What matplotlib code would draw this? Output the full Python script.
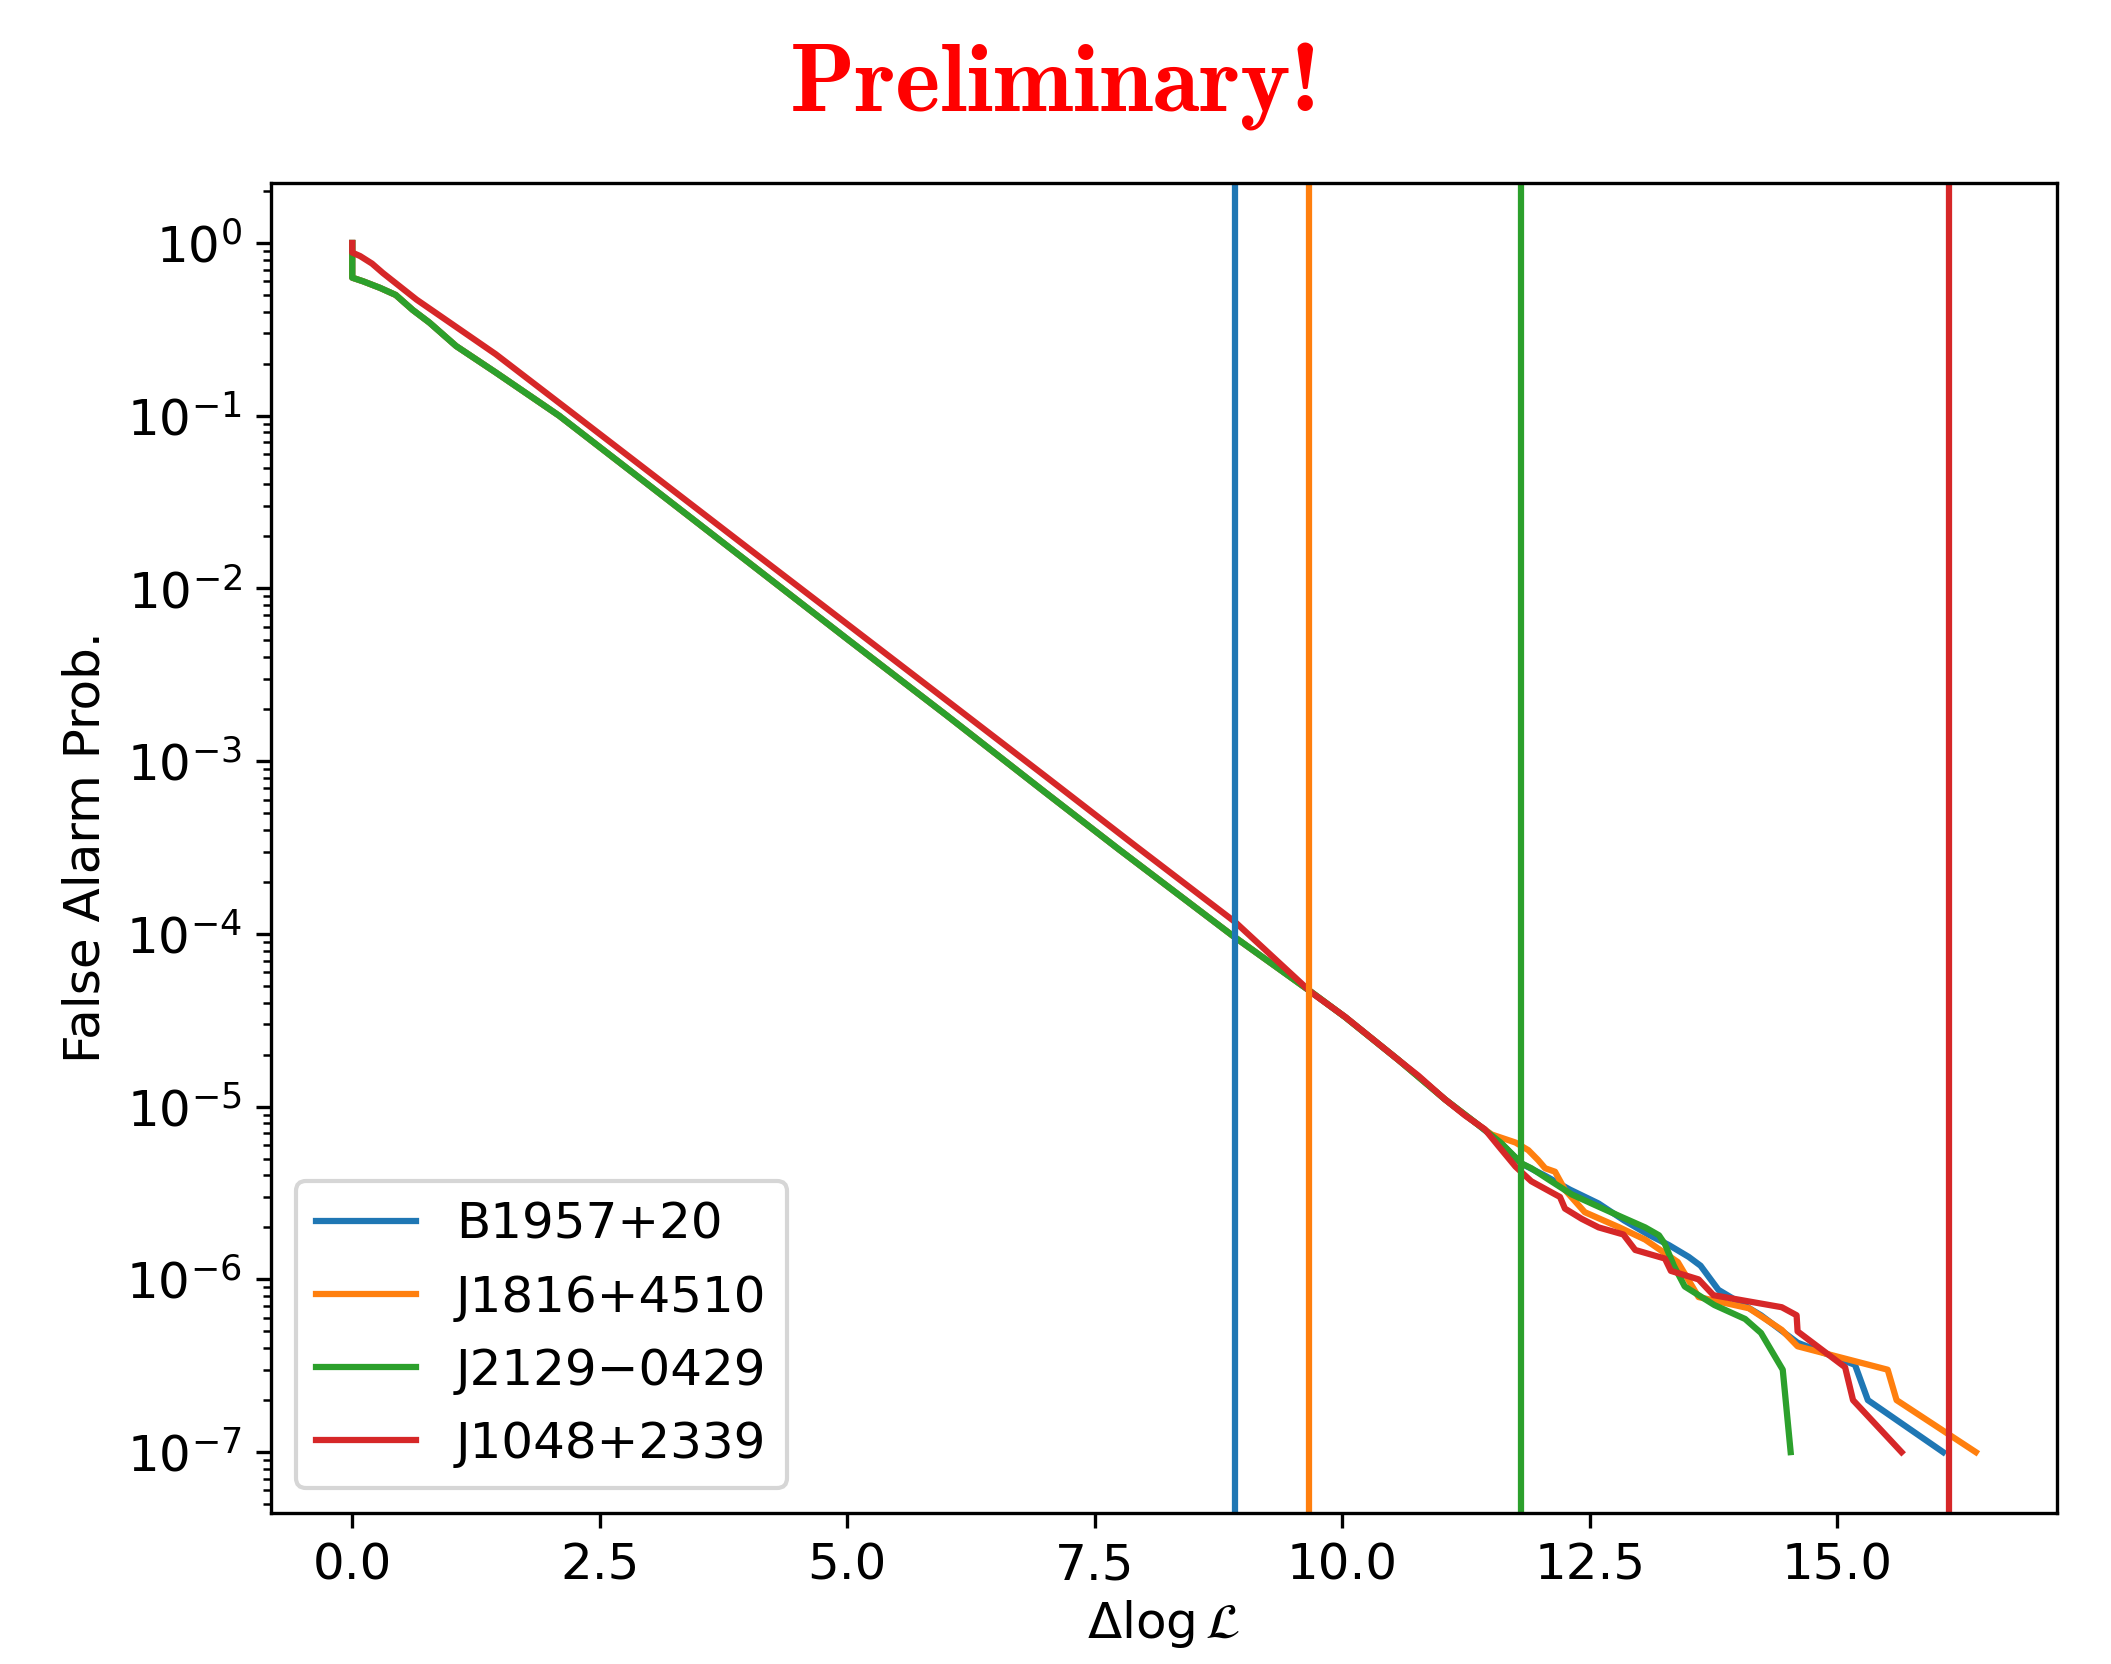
"""False alarm probability vs delta log-likelihood for four pulsars (preliminary)."""
import numpy as np
import matplotlib
matplotlib.use("Agg")
import matplotlib.pyplot as plt

plt.rcParams["font.size"] = 12

NAMES = ["B1957+20", "J1816+4510", "J2129\u22120429", "J1048+2339"]
COLORS = ["#1f77b4", "#ff7f0e", "#2ca02c", "#d62728"]

# common part of the three overlapping curves (blue / orange / green)
head_x = [0, 0, 0.11, 0.28, 0.44, 0.61, 0.78, 1.05, 1.45, 2.09, 3.0, 4.0,
          5.0, 6.0, 7.0, 7.74, 8.89, 9.69, 10.03, 10.57, 11.04, 11.38]
head_y = [1.0, 0.63, 0.60, 0.55, 0.50, 0.41, 0.346, 0.253, 0.178, 0.10,
          0.0395, 0.0142, 0.0051, 0.00185, 0.00066, 0.00031, 9.8e-5, 4.6e-5,
          3.3e-5, 1.86e-5, 1.1e-5, 7.8e-6]

blue_tail_x = [11.6, 11.81, 12.05, 12.3, 12.59, 12.85, 13.09, 13.3, 13.5,
               13.62, 13.8, 14.23, 14.6, 15.18, 15.31, 16.07]
blue_tail_y = [6.17e-6, 4.68e-6, 3.98e-6, 3.31e-6, 2.75e-6, 2.19e-6, 1.82e-6,
               1.58e-6, 1.35e-6, 1.2e-6, 8.7e-7, 6.2e-7, 4.3e-7, 3.2e-7,
               2.0e-7, 1.0e-7]

orange_tail_x = [11.51, 11.75, 11.88, 11.98, 12.05, 12.15, 12.25, 12.45,
                 12.8, 13.06, 13.39, 13.6, 14.11, 14.44, 14.6, 15.51, 15.6,
                 16.4]
orange_tail_y = [6.9e-6, 6.2e-6, 5.6e-6, 4.9e-6, 4.4e-6, 4.2e-6, 3.3e-6,
                 2.45e-6, 2.0e-6, 1.7e-6, 1.26e-6, 7.9e-7, 6.8e-7, 5.1e-7,
                 4.1e-7, 3.0e-7, 2.0e-7, 1.0e-7]

green_tail_x = [11.6, 11.81, 11.91, 12.08, 12.32, 12.55, 12.82, 13.06, 13.2,
                13.26, 13.35, 13.46, 13.76, 14.07, 14.23, 14.45, 14.53]
green_tail_y = [6.2e-6, 4.7e-6, 4.4e-6, 3.8e-6, 3.1e-6, 2.7e-6, 2.3e-6,
                2.0e-6, 1.8e-6, 1.6e-6, 1.2e-6, 9.1e-7, 7.1e-7, 5.9e-7,
                4.9e-7, 3.0e-7, 1.0e-7]

red_x = [0, 0, 0.08, 0.2, 0.31, 0.65, 1.45, 2.26, 3.0, 4.0, 5.0, 6.0, 7.0,
         7.91, 8.92, 9.69, 10.03, 10.57, 10.77, 11.04, 11.24, 11.44, 11.58,
         11.75, 11.91, 12.11, 12.2, 12.25, 12.42, 12.59, 12.84, 12.96, 13.26,
         13.32, 13.6, 13.75, 14.44, 14.59, 14.6, 15.08, 15.16, 15.65]
red_y = [1.0, 0.88, 0.84, 0.76, 0.67, 0.47, 0.227, 0.10, 0.0472, 0.0171,
         0.00622, 0.00226, 0.00082, 0.000324, 0.000117, 4.57e-5, 3.31e-5,
         1.86e-5, 1.51e-5, 1.1e-5, 8.9e-6, 7.4e-6, 5.9e-6, 4.5e-6, 3.7e-6,
         3.2e-6, 3.0e-6, 2.57e-6, 2.24e-6, 2.0e-6, 1.82e-6, 1.48e-6, 1.32e-6,
         1.12e-6, 1.0e-6, 8.1e-7, 6.9e-7, 6.2e-7, 5.0e-7, 3.1e-7, 2.0e-7,
         1.0e-7]

# observed delta log L of each pulsar
observed = [8.92, 9.66, 11.81, 16.13]

curves = [
    (head_x + blue_tail_x, head_y + blue_tail_y),
    (head_x + orange_tail_x, head_y + orange_tail_y),
    (head_x + green_tail_x, head_y + green_tail_y),
    (red_x, red_y),
]

fig = plt.figure(figsize=(2111 / 300, 1664 / 300), dpi=300)
ax = fig.add_axes([0.1284, 0.0910, 0.9744 - 0.1284, 0.8903 - 0.0910])

for (x, y), name, c in zip(curves, NAMES, COLORS):
    ax.plot(x, y, color=c, lw=1.5, label=name)
for v, c in zip(observed, COLORS):
    ax.axvline(v, color=c, lw=1.5)

ax.set_yscale("log")
ax.set_xlabel(r"$\Delta\log\mathcal{L}$", labelpad=2)
ax.set_ylabel("False Alarm Prob.")
ax.legend(loc="lower left")

fig.text(0.5, 0.933, "Preliminary!", color="red", fontsize=23,
         family="cmb10", ha="center", va="baseline")

fig.savefig("out.png", dpi=300)
